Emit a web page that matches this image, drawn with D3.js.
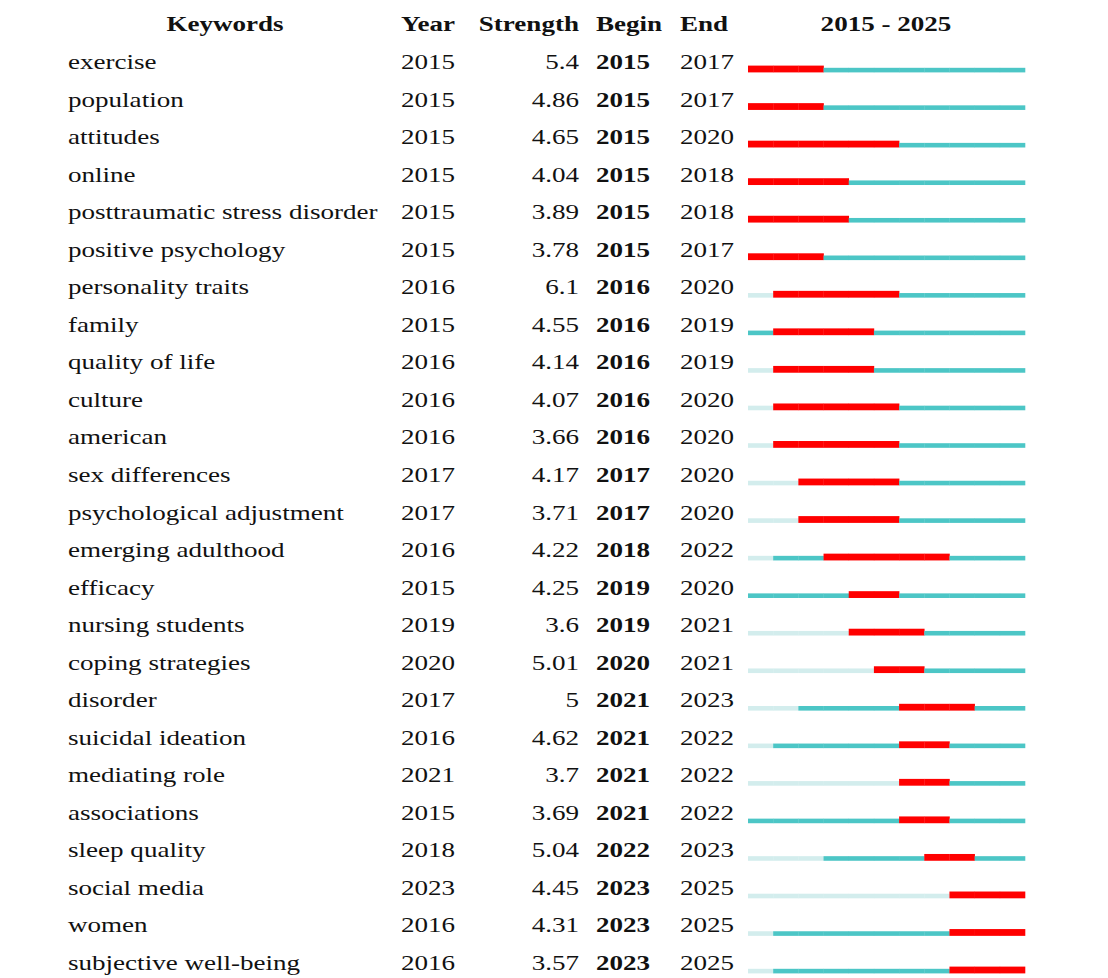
<!DOCTYPE html>
<head>
  <meta charset="utf-8">
  <script src="https://d3js.org/d3.v7.min.js"></script>
  <style>
    body { margin:0; background:#fff; }
    svg { display:block; }
    text { font-family: "Liberation Serif", "Times New Roman", serif; fill:#111; }
  </style>
</head>
<body>
  <svg width="1108" height="978"></svg>
  <script>
    var keywords = ['exercise', 'population', 'attitudes', 'online', 'posttraumatic stress disorder',
      'positive psychology', 'personality traits', 'family', 'quality of life', 'culture', 'american',
      'sex differences', 'psychological adjustment', 'emerging adulthood', 'efficacy', 'nursing students',
      'coping strategies', 'disorder', 'suicidal ideation', 'mediating role', 'associations',
      'sleep quality', 'social media', 'women', 'subjective well-being'];
    var firstYear = [2015, 2015, 2015, 2015, 2015, 2015, 2016, 2015, 2016, 2016, 2016, 2017, 2017,
      2016, 2015, 2019, 2020, 2017, 2016, 2021, 2015, 2018, 2023, 2016, 2016];
    var strength = ['5.4', '4.86', '4.65', '4.04', '3.89', '3.78', '6.1', '4.55', '4.14', '4.07', '3.66',
      '4.17', '3.71', '4.22', '4.25', '3.6', '5.01', '5', '4.62', '3.7', '3.69', '5.04', '4.45', '4.31', '3.57'];
    var begin = [2015, 2015, 2015, 2015, 2015, 2015, 2016, 2016, 2016, 2016, 2016, 2017, 2017,
      2018, 2019, 2019, 2020, 2021, 2021, 2021, 2021, 2022, 2023, 2023, 2023];
    var end = [2017, 2017, 2020, 2018, 2018, 2017, 2020, 2019, 2019, 2020, 2020, 2020, 2020,
      2022, 2020, 2021, 2021, 2023, 2022, 2022, 2022, 2023, 2025, 2025, 2025];
    var years = d3.range(2015, 2026);

    var fontSize = 20.5, sx = 1.32;
    var svg = d3.select('svg');

    var rows = keywords.map((k, i) => ({k: k, year: firstYear[i], s: strength[i], b: begin[i], e: end[i], i: i}));

    var yScale = d3.scaleLinear().domain([0, keywords.length - 1]).range([69, 970]);
    var xScale = d3.scaleBand().domain(years).range([748, 1025]);

    function txt(sel, x, y, s, anchor, bold) {
      sel.append('text')
        .attr('transform', 'translate(' + [x, y] + ') scale(' + sx + ',1)')
        .attr('text-anchor', anchor)
        .style('font-size', fontSize + 'px')
        .style('font-weight', bold ? 'bold' : 'normal')
        .text(s);
    }

    // header
    var head = svg.append('g');
    var hy = yScale(-1);
    txt(head, 225, hy, 'Keywords', 'middle', true);
    txt(head, 401, hy, 'Year', 'start', true);
    txt(head, 579, hy, 'Strength', 'end', true);
    txt(head, 596, hy, 'Begin', 'start', true);
    txt(head, 680, hy, 'End', 'start', true);
    txt(head, 886, hy, '2015 - 2025', 'middle', true);

    // rows
    var g = svg.selectAll('g.row').data(rows).enter().append('g').attr('class', 'row');
    g.each(function(d) {
      var sel = d3.select(this), y = yScale(d.i);
      txt(sel, 68, y, d.k, 'start', false);
      txt(sel, 401, y, d.year, 'start', false);
      txt(sel, 579, y, d.s, 'end', false);
      txt(sel, 596, y, d.b, 'start', true);
      txt(sel, 680, y, d.e, 'start', false);

      // one segment per year: light before first appearance, teal after, red during burst
      sel.selectAll('rect').data(years).enter().append('rect')
        .attr('x', yr => xScale(yr))
        .attr('width', xScale.bandwidth() + 0.3)
        .attr('y', yr => (yr >= d.b && yr <= d.e) ? y - 3.4 : y - 1.2)
        .attr('height', yr => (yr >= d.b && yr <= d.e) ? 6.8 : 4.6)
        .attr('fill', yr => (yr >= d.b && yr <= d.e) ? '#ff0000' : (yr >= d.year ? '#4cc6c6' : '#d3eded'));
    });
  </script>
</body>
